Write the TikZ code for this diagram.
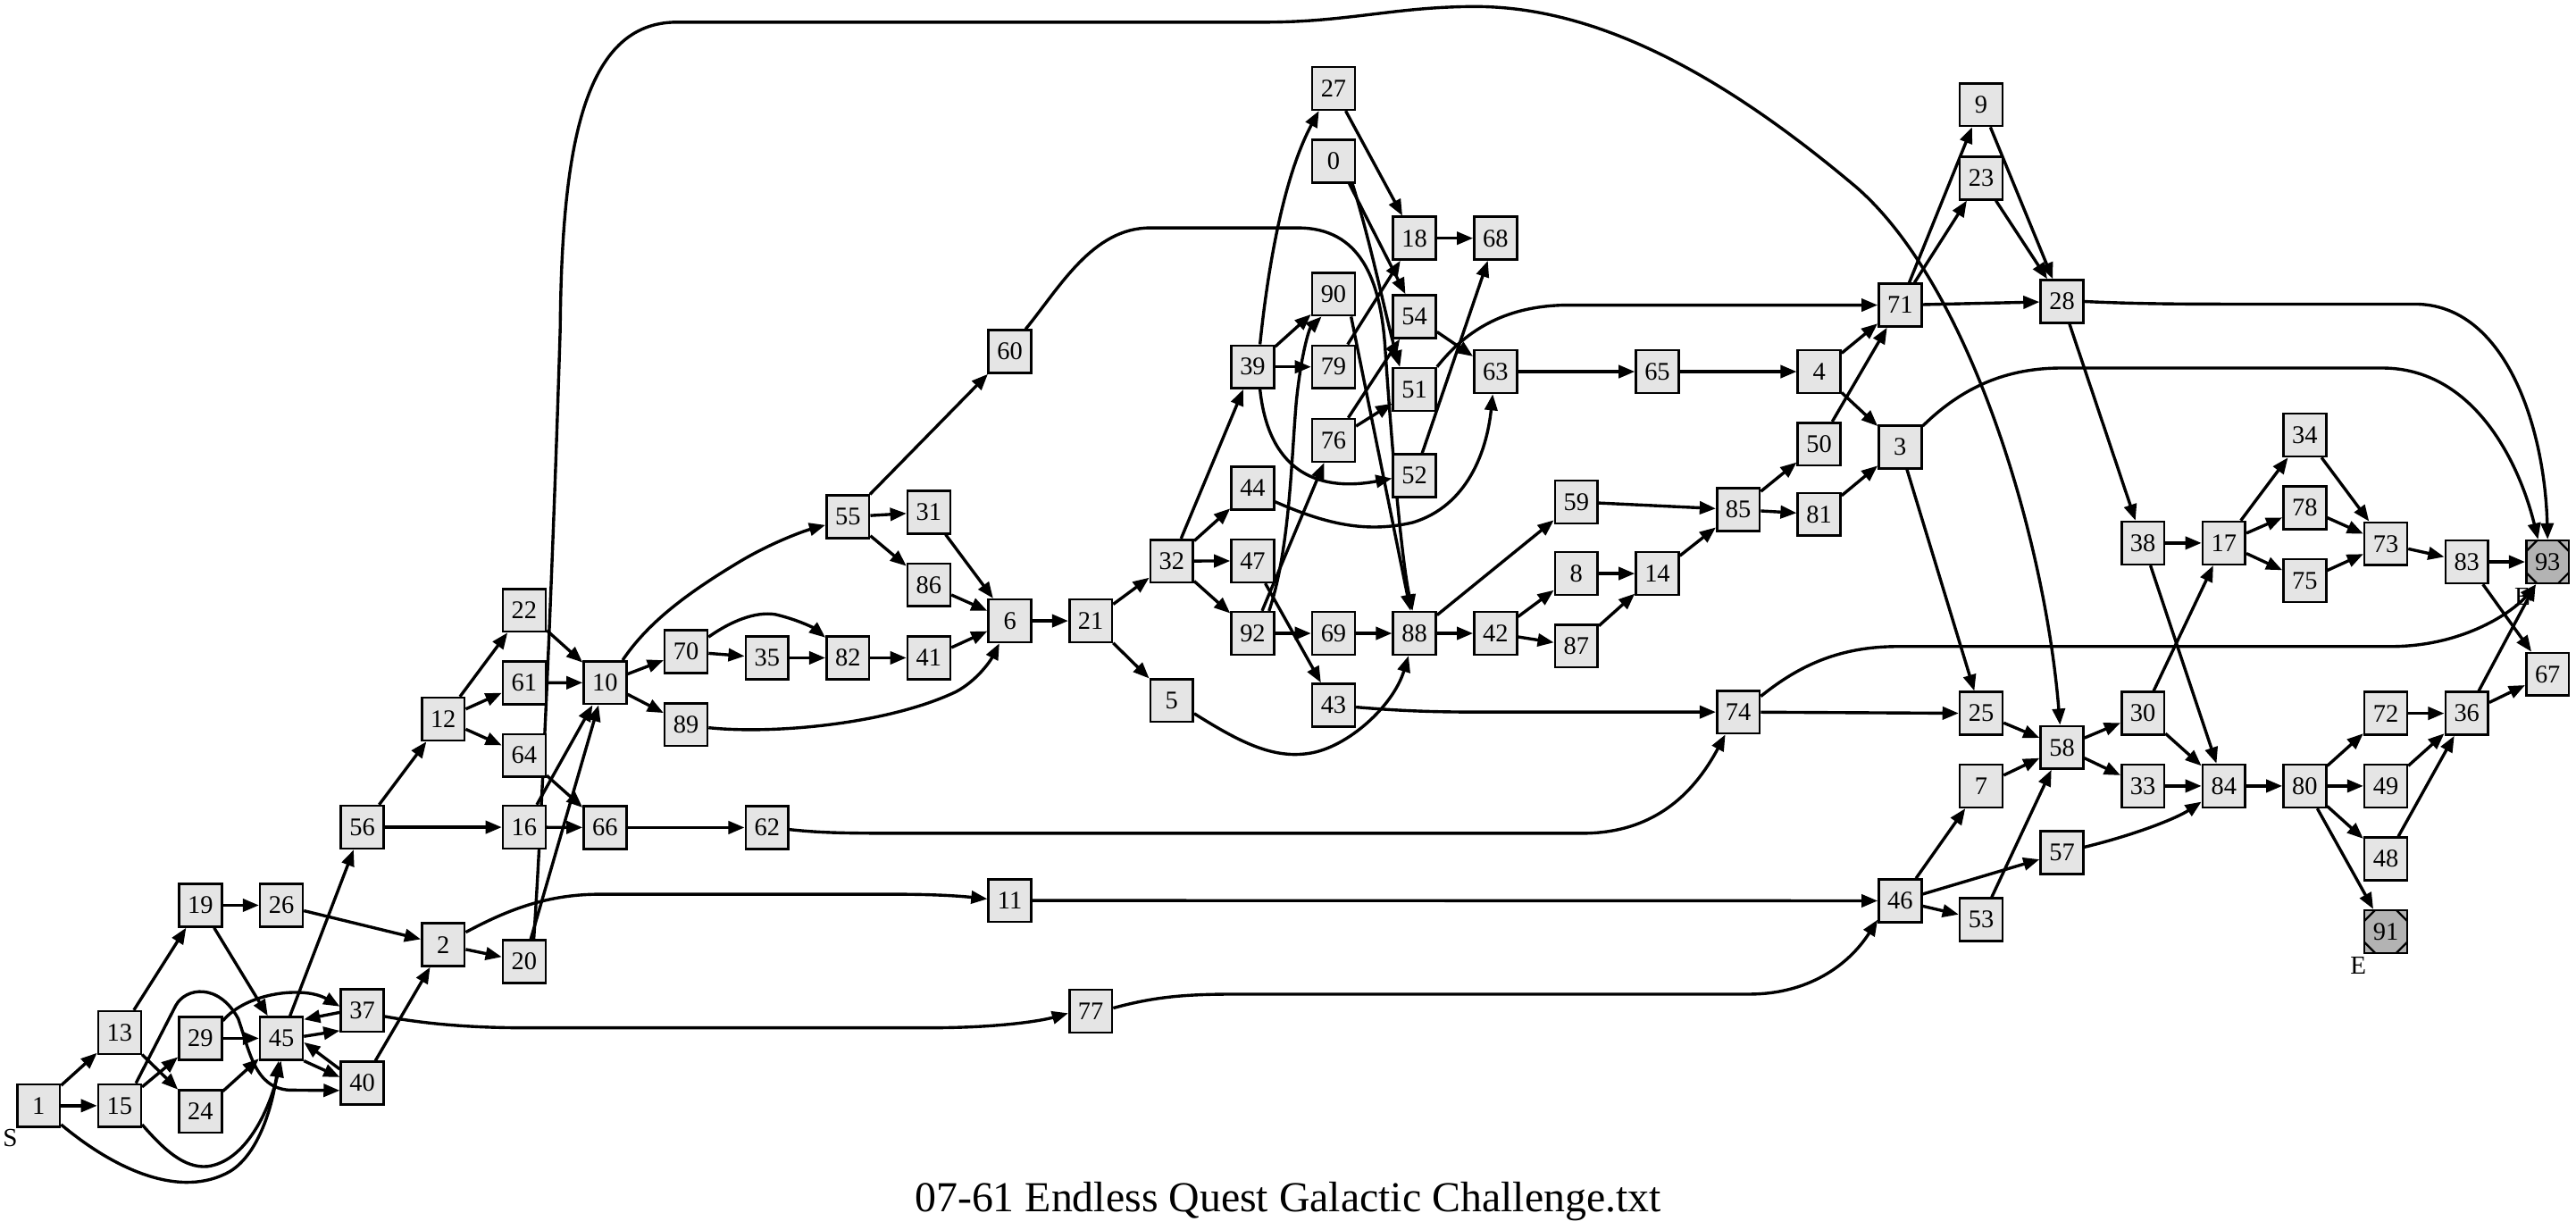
\documentclass[tikz,border=0pt]{standalone}
\usepackage{fontspec}
\setmainfont{Liberation Serif}
\usetikzlibrary{arrows.meta}
\definecolor{nodegray}{HTML}{E5E5E5}
\definecolor{endgray}{HTML}{B3B3B3}
\pgfdeclarelayer{edgelayer}
\pgfsetlayers{edgelayer,main}
\begin{document}
\begin{tikzpicture}[x=0.02cm,y=-0.02cm,
  nd/.style={draw, line width=0.8pt, fill=nodegray, minimum width=0.52cm, minimum height=0.52cm, inner sep=0pt, font=\fontsize{8.8}{10}\selectfont},
  endnd/.style={nd, fill=endgray, path picture={
     \draw[line width=0.7pt] ([xshift=0.13cm]path picture bounding box.north west) -- ([yshift=-0.13cm]path picture bounding box.north west);
     \draw[line width=0.7pt] ([xshift=-0.13cm]path picture bounding box.north east) -- ([yshift=-0.13cm]path picture bounding box.north east);
     \draw[line width=0.7pt] ([xshift=0.13cm]path picture bounding box.south west) -- ([yshift=0.13cm]path picture bounding box.south west);
     \draw[line width=0.7pt] ([xshift=-0.13cm]path picture bounding box.south east) -- ([yshift=0.13cm]path picture bounding box.south east);}},
  e/.style={line width=1.05pt, -{Triangle[length=5.6pt,width=4.4pt]}},
  lbl/.style={font=\fontsize{9}{10.8}\selectfont, inner sep=0pt}]
\useasboundingbox (0,0) rectangle (1568,748.2);
% nodes
\node[nd] (n1) at (23.5,673) {1};
\node[nd] (n13) at (72.8,628.5) {13};
\node[nd] (n15) at (72.8,673) {15};
\node[nd] (n19) at (122,551) {19};
\node[nd] (n29) at (122,632) {29};
\node[nd] (n24) at (122,676.5) {24};
\node[nd] (n26) at (171.3,551) {26};
\node[nd] (n45) at (171.3,632) {45};
\node[nd] (n56) at (220.5,503.5) {56};
\node[nd] (n37) at (220.5,615) {37};
\node[nd] (n40) at (220.5,659.3) {40};
\node[nd] (n12) at (269.8,437.7) {12};
\node[nd] (n2) at (269.8,575) {2};
\node[nd] (n22) at (319.1,371.4) {22};
\node[nd] (n61) at (319.1,415.6) {61};
\node[nd] (n64) at (319.1,459.8) {64};
\node[nd] (n16) at (319.1,503.5) {16};
\node[nd] (n20) at (319.1,585.3) {20};
\node[nd] (n10) at (368.3,415.5) {10};
\node[nd] (n66) at (368.3,503.7) {66};
\node[nd] (n70) at (417.6,396.6) {70};
\node[nd] (n89) at (417.6,441) {89};
\node[nd] (n35) at (466.9,400.4) {35};
\node[nd] (n62) at (466.9,503.7) {62};
\node[nd] (n55) at (516.1,314.6) {55};
\node[nd] (n82) at (516.1,400.4) {82};
\node[nd] (n31) at (565.4,311.7) {31};
\node[nd] (n86) at (565.4,356) {86};
\node[nd] (n41) at (565.4,400.4) {41};
\node[nd] (n60) at (614.7,214) {60};
\node[nd] (n6) at (614.7,377.9) {6};
\node[nd] (n11) at (614.7,548.1) {11};
\node[nd] (n21) at (663.9,377.9) {21};
\node[nd] (n77) at (663.9,615.5) {77};
\node[nd] (n32) at (713.2,341.5) {32};
\node[nd] (n5) at (713.2,426.4) {5};
\node[nd] (n39) at (762.5,223.3) {39};
\node[nd] (n44) at (762.5,297.2) {44};
\node[nd] (n47) at (762.5,341.4) {47};
\node[nd] (n92) at (762.5,385.5) {92};
\node[nd] (n27) at (811.7,53.8) {27};
\node[nd] (n0) at (811.7,98.1) {0};
\node[nd] (n90) at (811.7,179) {90};
\node[nd] (n79) at (811.7,223.3) {79};
\node[nd] (n76) at (811.7,268) {76};
\node[nd] (n69) at (811.7,385.5) {69};
\node[nd] (n43) at (811.7,429.2) {43};
\node[nd] (n18) at (861,145) {18};
\node[nd] (n54) at (861,192.7) {54};
\node[nd] (n51) at (861,237) {51};
\node[nd] (n52) at (861,289.5) {52};
\node[nd] (n88) at (861,385.5) {88};
\node[nd] (n68) at (910.3,145) {68};
\node[nd] (n63) at (910.3,226.2) {63};
\node[nd] (n42) at (910.3,385.5) {42};
\node[nd] (n59) at (959.5,305.5) {59};
\node[nd] (n8) at (959.5,349.1) {8};
\node[nd] (n87) at (959.5,393.2) {87};
\node[nd] (n65) at (1008.8,226.2) {65};
\node[nd] (n14) at (1008.8,349.1) {14};
\node[nd] (n85) at (1058.1,310.2) {85};
\node[nd] (n74) at (1058.1,433.4) {74};
\node[nd] (n4) at (1107.3,226.2) {4};
\node[nd] (n50) at (1107.3,270.3) {50};
\node[nd] (n81) at (1107.3,313) {81};
\node[nd] (n71) at (1156.6,185.7) {71};
\node[nd] (n3) at (1156.6,272.1) {3};
\node[nd] (n46) at (1156.6,548.3) {46};
\node[nd] (n9) at (1205.9,63.7) {9};
\node[nd] (n23) at (1205.9,108.4) {23};
\node[nd] (n25) at (1205.9,434.2) {25};
\node[nd] (n7) at (1205.9,478.4) {7};
\node[nd] (n53) at (1205.9,559.8) {53};
\node[nd] (n28) at (1255.1,183.5) {28};
\node[nd] (n58) at (1255.1,454.9) {58};
\node[nd] (n57) at (1255.1,519) {57};
\node[nd] (n38) at (1304.4,330.5) {38};
\node[nd] (n30) at (1304.4,434.2) {30};
\node[nd] (n33) at (1304.4,478.4) {33};
\node[nd] (n17) at (1353.7,330.5) {17};
\node[nd] (n84) at (1353.7,478.4) {84};
\node[nd] (n34) at (1402.9,264.8) {34};
\node[nd] (n78) at (1402.9,309) {78};
\node[nd] (n75) at (1402.9,353.4) {75};
\node[nd] (n80) at (1402.9,478.4) {80};
\node[nd] (n73) at (1452.2,331) {73};
\node[nd] (n72) at (1452.2,434.2) {72};
\node[nd] (n49) at (1452.2,478.4) {49};
\node[nd] (n48) at (1452.2,522.8) {48};
\node[endnd] (n91) at (1452.2,567) {91};
\node[nd] (n83) at (1501.5,342) {83};
\node[nd] (n36) at (1501.5,434.2) {36};
\node[endnd] (n93) at (1550.7,342) {93};
\node[nd] (n67) at (1550.7,410.4) {67};
% labels
\node[lbl] (ls) at (6.3,692.8) {S};
\node[lbl] (le1) at (1435.4,587.7) {E};
\node[lbl] (le2) at (1535.3,363.4) {E};
\node[font=\fontsize{14.8}{17}\selectfont, inner sep=0pt, anchor=base] (title) at (784,737.5) {07-61 Endless Quest Galactic Challenge.txt};
% edges
\begin{pgfonlayer}{edgelayer}
\foreach \a/\b in {1/13,1/15,13/19,13/24,15/29,19/26,19/45,29/45,24/45,45/56,26/2,40/2,2/20,
  56/12,56/16,12/22,12/61,12/64,22/10,61/10,64/66,16/66,16/10,20/10,66/62,10/70,10/89,
  70/35,35/82,82/41,41/6,55/31,55/86,55/60,31/6,86/6,6/21,21/32,21/5,32/39,32/44,32/47,32/92,
  47/43,92/69,92/76,69/88,39/90,39/79,27/18,79/18,76/54,76/51,18/68,52/68,54/63,63/65,65/4,
  88/42,88/59,42/8,42/87,8/14,87/14,14/85,59/85,85/50,85/81,4/71,4/3,50/71,81/3,71/9,71/23,
  71/28,9/28,23/28,28/38,3/25,74/25,11/46,46/7,46/57,46/53,25/58,7/58,53/58,58/30,58/33,
  30/17,30/84,33/84,38/17,38/84,17/34,17/78,17/75,34/73,78/73,75/73,73/83,83/93,83/67,
  84/80,80/72,80/49,80/48,80/91,72/36,49/36,48/36,36/67,36/93}
  {\draw[e] (n\a) -- (n\b);}
% double edges around 45
\draw[e] (n45.5) -- (n37.222);
\draw[e] (n37.185) -- (n45.40);
\draw[e] (n45.-45) -- (n40.165);
\draw[e] (n40.148) -- (n45.-10);
% straight with ports
\draw[e] (n0.-55) -- (n54.112);
\draw[e] (n90.-52) -- (n88.100);
% curves
\draw[e] (n1.-40) .. controls (70,712) and (110,730) .. (140,713) .. controls (158,702) and (166,672) .. (n45.-97);
\draw[e] (n15.-40) .. controls (100,700) and (112,711) .. (126,710) .. controls (150,707) and (164,675) .. (n45.-91);
\draw[e] (n15.54) -- (107,612) .. controls (113,601) and (133,598) .. (145,620) .. controls (152,640) and (155,662) .. (176,663.5) -- (n40.198);
\draw[e] (n29.38) .. controls (150,604) and (185,600) .. (n37.170);
\draw[e] (n2.29) .. controls (305,556) and (330,544.3) .. (365,544.3) -- (545,544.3) .. controls (575,544.3) and (590,546) .. (n11.176);
\draw[e] (n37.-15) .. controls (258,623) and (285,625.6) .. (320,625.6) -- (565,625.6) .. controls (610,625.6) and (635,621) .. (n77.185);
\draw[e] (n77.8) .. controls (705,606) and (725,605.1) .. (755,605.1) -- (1065,605.1) .. controls (1100,605.1) and (1125,588) .. (n46.220);
\draw[e] (n62.-5) .. controls (500,507) and (515,507.2) .. (550,507.2) -- (963,507.2) .. controls (1005,507.2) and (1030,485) .. (n74.-120);
\draw[e] (n43.-5) .. controls (850,432.5) and (870,433.4) .. (900,433.4) -- (n74.west);
\draw[e] (n5.-30) .. controls (755,452) and (775,462) .. (797,458.5) .. controls (820,455) and (848,430) .. (n88.-105);
\draw[e] (n89.-8) .. controls (470,447) and (540,441) .. (582,421) .. controls (595,414) and (603,402) .. (n6.-115);
\draw[e] (n70.33) .. controls (445,378) and (460,372) .. (472,374) .. controls (485,377) and (495,382) .. (n82.138);
\draw[e] (n10.52) .. controls (395,378) and (420,360) .. (450,342) .. controls (470,330) and (490,323) .. (n55.200);
\draw[e] (n60.55) .. controls (645,175) and (665,138.7) .. (700,138.7) -- (790,138.7) .. controls (828,138.7) and (840,170) .. (843,210) .. controls (847,270) and (853,340) .. (n88.95);
\draw[e] (n20.67) .. controls (331,480) and (338,300) .. (341,200) .. controls (342,90) and (355,13.5) .. (412,13.5) -- (770,13.5) .. controls (820,13.5) and (850,4) .. (898,4) .. controls (980,4) and (1060,55) .. (1130,114) .. controls (1200,175) and (1245,330) .. (n58.95);
\draw[e] (n0.-50) .. controls (835,150) and (844,195) .. (n51.123);
\draw[e] (n39.72) .. controls (771,170) and (780,110) .. (n27.-123);
\draw[e] (n39.-72) .. controls (772,285) and (800,300) .. (n52.187);
\draw[e] (n92.54) .. controls (785,335) and (786,280) .. (789,245) .. controls (792,215) and (797,200) .. (n90.-118);
\draw[e] (n44.-31) .. controls (805,318) and (830,325) .. (860,318) .. controls (893,308) and (905,275) .. (n63.-97);
\draw[e] (n51.45) .. controls (893,200) and (918,185.7) .. (955,185.7) -- (n71.west);
\draw[e] (n28.east) .. controls (1300,185) and (1330,185.1) .. (1360,185.1) -- (1470,185.1) .. controls (1525,185.1) and (1549,260) .. (n93.north);
\draw[e] (n3.43) .. controls (1195,235) and (1222,224) .. (1255,224) -- (1450,224) .. controls (1505,224) and (1533,280) .. (n93.113);
\draw[e] (n74.35) .. controls (1095,405) and (1120,393.5) .. (1155,393.5) -- (1455,393.5) .. controls (1500,393.5) and (1530,372) .. (n93.-117);
\draw[e] (n57.14) .. controls (1300,508) and (1325,498) .. (n84.-145);
\end{pgfonlayer}
\end{tikzpicture}
\end{document}
